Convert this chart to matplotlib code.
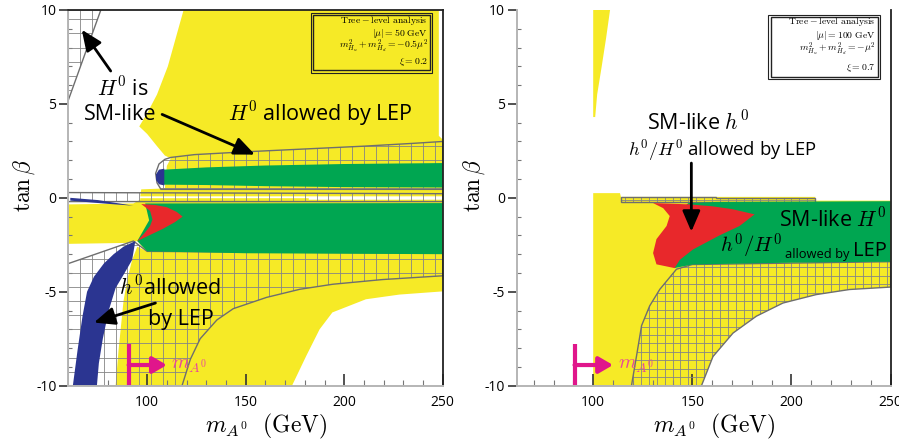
import numpy as np
import matplotlib.pyplot as plt
from matplotlib.patches import Polygon, Rectangle

plt.rcParams['mathtext.fontset'] = 'cm'
plt.rcParams['font.family'] = ['Open Sans', 'DejaVu Sans']

YELLOW = '#f6ea26'
GREEN = '#00a651'
RED = '#e8282b'
BLUE = '#2b3591'
GRIDC = '#858585'
MAGENTA = '#e0168b'

# axis ranges / ticks
x_ticks = [100, 150, 200, 250]
y_ticks = [-10, -5, 0, 5, 10]
y_ticklabels = ['-10', '-5', '0', '5', '10']

# ---------------- left panel (xi = 0.2), points are (m_A, tan beta) ----------------
L_yellow_top = [(118.5, 10), (114.5, 8.5), (110.5, 7.0), (105, 5.5), (100, 4.5), (96, 3.8),
                (100, 3.4), (105, 2.75), (109, 2.25), (112, 2.1), (110, 1.7), (109, 0.5),
                (97, 0.45), (96.5, 0.08), (250, 0.08), (250, 3.1), (248, 3.3), (248, 10)]
L_yellow_mid = [(60, -0.35), (93, -0.3), (96.5, -0.1), (96.5, -0.02), (182, -0.02), (182, -0.1),
                (250, -0.1), (250, -3.0), (100, -2.9), (95, -2.3), (90, -2.4), (60, -2.45)]
L_yellow_low = [(84, -10), (85.5, -8.1), (88, -5.5), (90, -4.3), (92.4, -3.3), (95, -2.6),
                (100, -2.85), (250, -2.95), (250, -4.98), (228, -5.15), (211, -5.4), (194, -6.1),
                (187.5, -7.0), (180.8, -8.4), (173.5, -10)]
L_hatch_top = [(104.3, 1.3), (106, 1.8), (109, 2.05), (112, 2.15), (124, 2.3), (150, 2.45),
               (180, 2.6), (210, 2.75), (235, 2.9), (250, 3.0), (250, 0.45), (107, 0.45), (105, 0.8)]
L_hatch_zero = [(60, 0.28), (250, 0.22), (250, -0.2), (60, -0.2)]
L_hatch_corner = [(60, 5.2), (76.5, 10), (60, 10)]
L_hatch_low = [(60, -10), (60, -3.5), (93, -2.3), (100, -2.85), (250, -2.95), (250, -4.15),
               (219.5, -4.35), (194.2, -4.6), (177.4, -4.87), (160.6, -5.3), (143.7, -5.9),
               (135.4, -6.5), (126.9, -7.5), (121.9, -8.6), (117.7, -10)]
L_green_top = [(108.5, 0.7), (130, 0.68), (160, 0.62), (200, 0.57), (250, 0.55), (250, 1.85),
               (200, 1.8), (160, 1.72), (130, 1.62), (108.5, 1.5)]
L_blue_cap = [(108.7, 1.55), (106, 1.5), (104.5, 1.25), (104.5, 0.95), (106, 0.72), (108.7, 0.66)]
L_blue_thin = [(61, 0.0), (75, -0.12), (93, -0.42), (80, -0.32), (61, -0.15)]
L_green_low = [(99, -0.3), (250, -0.28), (250, -3.0), (150, -2.95), (100, -2.85), (95, -2.3),
               (101, -1.2)]
L_red = [(97, -0.33), (104, -0.38), (110, -0.5), (115, -0.75), (118, -1.0), (114, -1.3),
         (108, -1.65), (101, -2.0), (95, -2.3), (98.5, -1.9), (101.5, -1.5), (102.7, -1.15),
         (101.5, -0.7)]
L_blue_band = [(62.3, -10), (64.7, -8.1), (67.2, -6.3), (69.5, -5.0), (73, -4.2), (78, -3.5),
               (83, -3.0), (88, -2.6), (94, -2.3), (92.4, -3.3), (88, -4.1), (84, -4.8),
               (80.5, -6.0), (77.5, -7.5), (75.5, -8.8), (74.5, -10)]

# ---------------- right panel (xi = 0.7) ----------------
R_yellow_sliver = [(100, 4.3), (101, 4.3), (102, 5.5), (104.3, 7.0), (106.5, 8.5), (108.5, 10),
                   (100, 10)]
R_yellow = [(100, 0.25), (113.5, 0.25), (114, 0.05), (212, 0.05), (212, -0.15), (250, -0.15),
            (250, -4.75), (229.3, -4.88), (212.5, -5.15), (195.7, -5.6), (182.3, -6.3),
            (170.5, -7.2), (160.4, -8.45), (154.6, -10), (100, -10)]
R_hatch_strip = [(114, 0.05), (162, 0.05), (162, -0.02), (212, -0.02), (212, -0.2), (114, -0.2)]
R_hatch = [(119.3, -10), (121.8, -8.45), (124.4, -6.8), (128.5, -5.75), (133.6, -4.87),
           (142, -3.8), (150, -3.55), (250, -3.4), (250, -4.75), (229.3, -4.88), (212.5, -5.15),
           (195.7, -5.6), (182.3, -6.3), (170.5, -7.2), (160.4, -8.45), (154.6, -10)]
R_green = [(148, -0.28), (162, -0.22), (250, -0.18), (250, -3.4), (200, -3.45), (150, -3.55),
           (141, -3.74), (135, -3.0), (140, -1.0)]
R_red = [(130.2, -0.28), (148.7, -0.35), (160, -0.45), (170, -0.6), (181.4, -0.88),
         (173.8, -1.5), (163.7, -2.0), (150.3, -2.75), (143.7, -3.3), (141, -3.74),
         (131.9, -3.54), (130.2, -2.94), (131.9, -2.2), (137, -1.5), (138.6, -0.97),
         (135.3, -0.55)]

mA_bound = 90.6     # LEP bound marker on m_A
mA_arrow_end = 110


def fill(ax, pts, color, z):
    ax.add_patch(Polygon(pts, closed=True, facecolor=color, edgecolor='none', zorder=z))


def hatch(ax, pts, dx, dy):
    outline = Polygon(pts, closed=True, fill=False, edgecolor='#6e6e6e', lw=1.0, zorder=2.6)
    ax.add_patch(outline)
    v = ax.vlines(np.arange(60, 251, dx), -10, 10, colors=GRIDC, lw=0.6, zorder=2.5)
    h = ax.hlines(np.arange(-10, 10.01, dy), 55, 255, colors=GRIDC, lw=0.6, zorder=2.5)
    v.set_clip_path(outline)
    h.set_clip_path(outline)


def arrow(ax, head, tail):
    ax.annotate('', xy=head, xytext=tail, zorder=8,
                arrowprops=dict(arrowstyle='-|>,head_length=0.7,head_width=0.3',
                                lw=2, color='black', mutation_scale=18, shrinkA=0, shrinkB=0))


def style(ax, xmin, top_spine):
    ax.set_xlim(xmin, 250)
    ax.set_ylim(-10, 10)
    ax.set_xticks(x_ticks)
    ax.set_xticks(np.arange(70, 250, 10), minor=True)
    ax.set_yticks(y_ticks)
    ax.set_yticklabels(y_ticklabels)
    ax.set_yticks(np.arange(-10, 10, 1), minor=True)
    ax.tick_params(axis='x', which='major', direction='in', length=9, width=1.2,
                   color='#333333', labelsize=10, pad=7)
    ax.tick_params(axis='x', which='minor', direction='in', length=4, width=0.8, color='#777777')
    ax.tick_params(axis='y', which='major', direction='out', length=6.5, width=1.2,
                   color='#333333', labelsize=10, pad=2)
    ax.tick_params(axis='y', which='minor', direction='in', length=3, width=0.8, color='#777777')
    for s in ['left', 'bottom']:
        ax.spines[s].set_color('#b5b5b5')
        ax.spines[s].set_linewidth(1.4)
    ax.spines['right'].set_color('#222222')
    ax.spines['right'].set_linewidth(1.3)
    ax.spines['top'].set_color('#222222')
    ax.spines['top'].set_linewidth(1.3)
    ax.spines['top'].set_visible(top_spine)
    for sp in ax.spines.values():
        sp.set_zorder(10)
    ax.set_xlabel(r'$m_{A^0}\ \ \mathrm{(GeV)}$', fontsize=17)
    ax.xaxis.set_label_coords(0.527, -0.07)
    ax.set_ylabel(r'$\tan\beta$', fontsize=17)


def info_box(ax, x0, x1, y0, y1, lines, ys):
    ax.add_patch(Rectangle((x0, y0), x1 - x0, y1 - y0, transform=ax.transAxes,
                           fill=False, edgecolor='#222222', lw=0.8, zorder=9))
    ax.add_patch(Rectangle((x0 + 0.006, y0 + 0.006), x1 - x0 - 0.012, y1 - y0 - 0.012,
                           transform=ax.transAxes, fill=False, edgecolor='#222222', lw=1.0, zorder=9))
    for s, y in zip(lines, ys):
        ax.text(x1 - 0.011, y, s, transform=ax.transAxes, ha='right', va='center',
                fontsize=7.0, zorder=9)


def mA_marker(ax):
    ax.plot([mA_bound, mA_bound], [-10, -7.8], color=MAGENTA, lw=3, zorder=8,
            solid_capstyle='butt')
    ax.annotate('', xy=(mA_arrow_end, -8.9), xytext=(mA_bound, -8.9), zorder=8,
                arrowprops=dict(arrowstyle='-|>,head_length=0.6,head_width=0.35', lw=3,
                                color=MAGENTA, mutation_scale=14, shrinkA=0, shrinkB=0))
    ax.text(112.3, -8.95, r'$m_{A^0}$', color='#e8489b', fontsize=14.5, va='center', zorder=8)


fig = plt.figure(figsize=(8.99, 4.45), dpi=100)
axL = fig.add_axes([0.076, 0.1333, 0.4165, 0.8443])
axR = fig.add_axes([0.5747, 0.1333, 0.416, 0.8443])

# ---- left panel ----
fill(axL, L_yellow_top, YELLOW, 1)
fill(axL, L_yellow_mid, YELLOW, 1)
fill(axL, L_yellow_low, YELLOW, 1)
hatch(axL, L_hatch_corner, 6, 0.75)
hatch(axL, L_hatch_top, 6, 0.75)
hatch(axL, L_hatch_zero, 6, 0.75)
hatch(axL, L_hatch_low, 6, 0.75)
fill(axL, L_green_top, GREEN, 4)
fill(axL, L_blue_cap, BLUE, 4)
fill(axL, L_blue_thin, BLUE, 4)
fill(axL, L_green_low, GREEN, 4)
fill(axL, L_red, RED, 5)
fill(axL, L_blue_band, BLUE, 5)
style(axL, 60, True)
axL.yaxis.set_label_coords(-0.084, 0.534)

axL.text(87.7, 5.8, r'$H^0$ is', fontsize=15.5, ha='center', va='center', zorder=8)
axL.text(86.5, 4.45, 'SM-like', fontsize=15.5, ha='center', va='center', zorder=8)
axL.text(188, 4.5, r'$H^0$ allowed by LEP', fontsize=15.5, ha='center', va='center', zorder=8)
axL.text(111.8, -4.8, r'$h^0$allowed', fontsize=15.5, ha='center', va='center', zorder=8)
axL.text(117.2, -6.5, 'by LEP', fontsize=15.5, ha='center', va='center', zorder=8)
arrow(axL, (66.8, 8.95), (81.5, 6.75))
arrow(axL, (154.7, 2.3), (107.6, 4.44))
arrow(axL, (73, -6.64), (104.2, -5.6))
mA_marker(axL)
info_box(axL, 0.648, 0.971, 0.833, 0.993,
         [r'$\mathrm{Tree-level\ analysis}$', r'$|\mu| = 50\ \mathrm{GeV}$',
          r'$m^2_{H_u}+m^2_{H_d}=-0.5\mu^2$', r'$\xi = 0.2$'],
         [0.9715, 0.938, 0.902, 0.862])

# ---- right panel ----
fill(axR, R_yellow_sliver, YELLOW, 1)
fill(axR, R_yellow, YELLOW, 1)
hatch(axR, R_hatch_strip, 4, 0.45)
hatch(axR, R_hatch, 4, 0.45)
fill(axR, R_green, GREEN, 4)
fill(axR, R_red, RED, 5)
style(axR, 61.4, False)
axR.yaxis.set_label_coords(-0.079, 0.534)

axR.text(153, 4.0, r'SM-like $h^0$', fontsize=15.5, ha='center', va='center', zorder=8)
axR.text(165, 2.55, r'$h^0/H^0$ allowed by LEP', fontsize=13.3, ha='center', va='center', zorder=8)
axR.text(248, -1.15, r'SM-like $H^0$', fontsize=15.5, ha='right', va='center', zorder=8)
t1 = axR.text(164.0, -2.9, r'$h^0/H^0$', fontsize=15, ha='left', va='baseline', zorder=8)
t2 = axR.annotate('allowed by', xy=(1, 0), xycoords=t1, xytext=(2, 0),
                  textcoords='offset points', fontsize=9.3, va='bottom', zorder=8)
axR.annotate('LEP', xy=(1, 0), xycoords=t2, xytext=(2.5, 0), textcoords='offset points',
             fontsize=14.5, va='bottom', zorder=8)
arrow(axR, (149.5, -1.8), (149.5, 1.85))
mA_marker(axR)
info_box(axR, 0.673, 0.971, 0.816, 0.987,
         [r'$\mathrm{Tree-level\ analysis}$', r'$|\mu| = 100\ \mathrm{GeV}$',
          r'$m^2_{H_u}+m^2_{H_d}=-\mu^2$', r'$\xi = 0.7$'],
         [0.969, 0.933, 0.894, 0.846])

fig.savefig('out.png', dpi=100)
